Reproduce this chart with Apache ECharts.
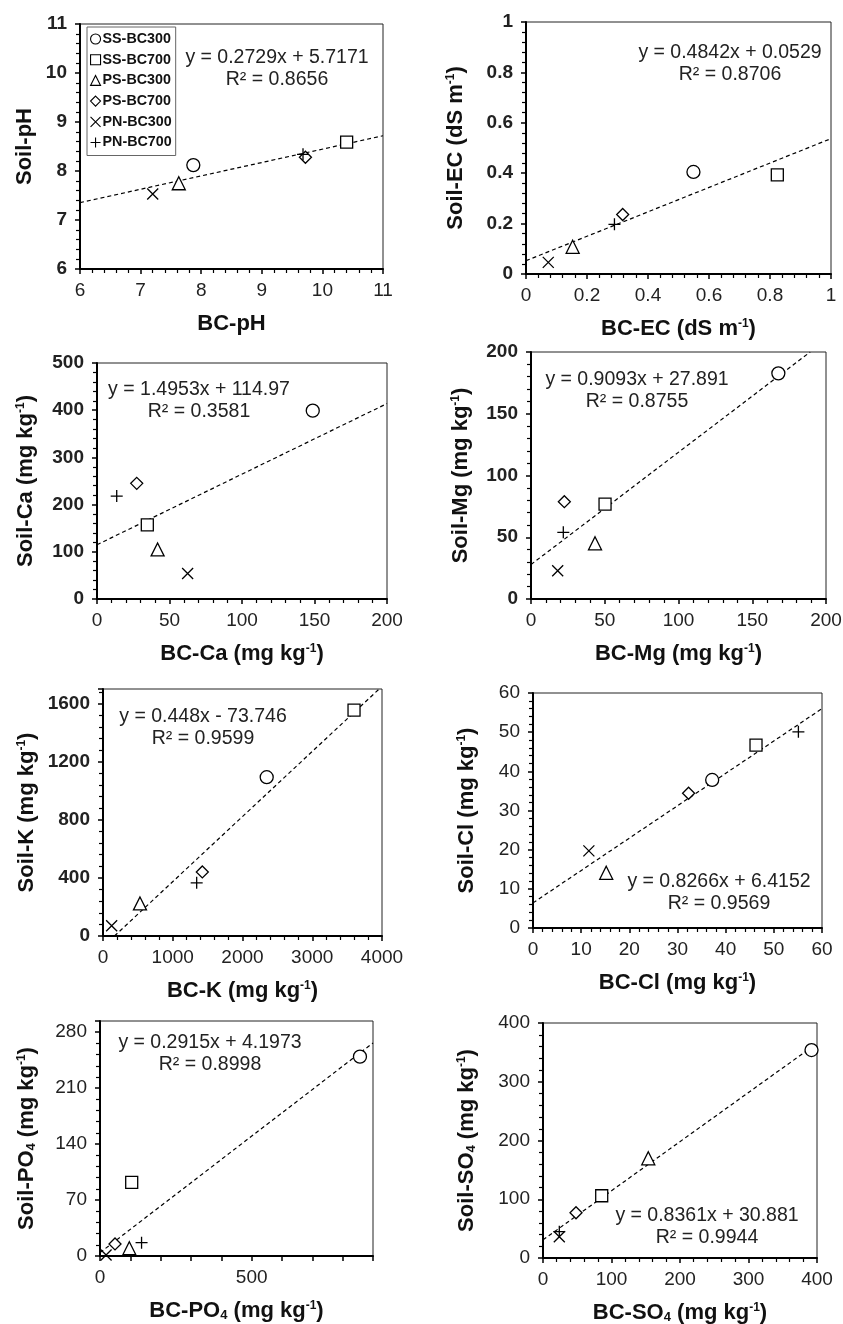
<!DOCTYPE html>
<html><head><meta charset="utf-8">
<script src="https://cdn.jsdelivr.net/npm/echarts@6/dist/echarts.min.js"></script>
<style>html,body{margin:0;padding:0;background:#fff}#c{width:843px;height:1324px}</style>
</head><body><div id="c"></div>
<script>
// ---------- DATA ----------
const seriesNames = ['SS-BC300', 'SS-BC700', 'PS-BC300', 'PS-BC700', 'PN-BC300', 'PN-BC700'];

// Values per panel, in the order of seriesNames (BC value = x, Soil value = y)
const phX  = [7.87, 10.40, 7.63, 9.72, 7.20, 9.68];
const phY  = [8.12, 8.59, 7.75, 8.28, 7.53, 8.34];
const ecX  = [0.549, 0.824, 0.153, 0.317, 0.073, 0.290];
const ecY  = [0.405, 0.393, 0.108, 0.236, 0.046, 0.197];
const caX  = [148.8, 34.7, 41.8, 27.4, 62.5, 13.6];
const caY  = [399, 157, 105, 245, 54, 218];
const mgX  = [167.7, 50.2, 43.4, 22.6, 18.1, 21.9];
const mgY  = [182.7, 76.9, 45.1, 78.8, 22.9, 54];
const kX   = [2347, 3599, 530, 1424, 124, 1343];
const kY   = [1093, 1555, 224, 441, 71, 366];
const clX  = [37.2, 46.3, 15.2, 32.3, 11.6, 55.1];
const clY  = [37.8, 46.7, 14.1, 34.4, 19.7, 50.1];
const po4X = [857, 104.5, 96.7, 49.5, 20, 137];
const po4Y = [249.4, 92.2, 9.7, 15.1, 1.3, 16.7];
const so4X = [392, 85.7, 153.7, 48.2, 23.8, 23.8];
const so4Y = [354, 106, 169.7, 77, 36.3, 44.8];

// Linear fits shown on the chart
const trendSlope     = [0.2729, 0.4842, 1.4953, 0.9093, 0.448, 0.8266, 0.2915, 0.8361];
const trendIntercept = [5.7171, 0.0529, 114.97, 27.891, -73.746, 6.4152, 4.1973, 30.881];
const trendFrom      = [6, 0, 0, 0, 164.6, 0, 0, 0];
const trendTo        = [11, 1, 200, 189.3, 3959, 60, 900, 392];
const eqTexts = ['y = 0.2729x + 5.7171', 'y = 0.4842x + 0.0529', 'y = 1.4953x + 114.97', 'y = 0.9093x + 27.891',
                 'y = 0.448x - 73.746', 'y = 0.8266x + 6.4152', 'y = 0.2915x + 4.1973', 'y = 0.8361x + 30.881'];
const r2Texts = ['R² = 0.8656', 'R² = 0.8706', 'R² = 0.3581', 'R² = 0.8755',
                 'R² = 0.9599', 'R² = 0.9569', 'R² = 0.8998', 'R² = 0.9944'];

// Axis ranges / tick labels
const xMin = [6, 0, 0, 0, 0, 0, 0, 0];
const xMax = [11, 1, 200, 200, 4000, 60, 900, 400];
const xTickStep  = [1, 0.2, 50, 50, 1000, 10, 100, 100];
const xLabelStep = [1, 0.2, 50, 50, 1000, 10, 500, 100];
const yMin = [6, 0, 0, 0, 0, 0, 0, 0];
const yMax = [11, 1, 500, 200, 1700, 60, 294, 400];
const yTickStep = [1, 0.2, 100, 50, 400, 10, 70, 100];
const xTitles = ['BC-pH', 'BC-EC (dS m{sup|-1})', 'BC-Ca (mg kg{sup|-1})', 'BC-Mg (mg kg{sup|-1})',
                 'BC-K (mg kg{sup|-1})', 'BC-Cl (mg kg{sup|-1})', 'BC-PO{sub|4} (mg kg{sup|-1})', 'BC-SO{sub|4} (mg kg{sup|-1})'];
const yTitles = ['Soil-pH', 'Soil-EC (dS m{sup|-1})', 'Soil-Ca (mg kg{sup|-1})', 'Soil-Mg (mg kg{sup|-1})',
                 'Soil-K (mg kg{sup|-1})', 'Soil-Cl (mg kg{sup|-1})', 'Soil-PO{sub|4} (mg kg{sup|-1})', 'Soil-SO{sub|4} (mg kg{sup|-1})'];

// ---------- LAYOUT / STYLE ----------
const panelsX = [phX, ecX, caX, mgX, kX, clX, po4X, so4X];
const panelsY = [phY, ecY, caY, mgY, kY, clY, po4Y, so4Y];
const gridBoxes = [
  [80, 24, 303, 245], [526, 22, 305, 252],
  [97, 363, 290, 236], [531, 352, 295, 247],
  [103, 689, 279, 247], [533, 693, 289, 235],
  [100, 1021, 273, 235], [543, 1023, 274, 235]
];
const yNameGap = [44, 59, 60, 59, 65, 55, 62, 65];
const eqPos = [[277, 58], [730, 53], [199, 390], [637, 380], [203, 717], [719, 882], [210, 1043], [707, 1216]];
const yLabelBold = [true, true, true, true, true, false, false, false];

const FONT = '"Liberation Sans", Arial, Helvetica, sans-serif';
const symbols = ['circle', 'rect', 'triangle', 'diamond',
                 'path://M0,0L10,10M10,0L0,10', 'path://M5,0L5,10M0,5L10,5'];
const symbolSizes = [13, 12, 13, 12, 11, 12];

function isMultiple(v, step) {
  const r = v / step;
  return Math.abs(r - Math.round(r)) < 1e-6;
}
function fmt(v) { return String(Math.round(v * 1000) / 1000); }

const richTitle = {
  sup: { fontSize: 12, fontWeight: 'bold', fontFamily: FONT, verticalAlign: 'top', color: '#111', lineHeight: 14 },
  sub: { fontSize: 13, fontWeight: 'bold', fontFamily: FONT, verticalAlign: 'bottom', color: '#111', lineHeight: 12, padding: [8, 0, 0, 0] }
};

const grid = [], xAxis = [], yAxis = [], series = [], graphic = [];
for (let p = 0; p < 8; p++) {
  const g = gridBoxes[p];
  grid.push({ left: g[0], top: g[1], width: g[2], height: g[3], show: true, borderColor: '#222', borderWidth: 1, backgroundColor: 'transparent', containLabel: false, outerBoundsMode: 'none' });
  const xl = xLabelStep[p];
  xAxis.push({
    type: 'value', gridIndex: p, min: xMin[p], max: xMax[p], interval: xTickStep[p],
    splitLine: { show: false },
    axisLine: { show: true, onZero: false, lineStyle: { color: '#000', width: 2 } },
    axisTick: { show: true, inside: false, length: 5, lineStyle: { color: '#000', width: 1.5 } },
    minorTick: { show: p !== 6, splitNumber: 5, length: 4, lineStyle: { color: '#000', width: 1.2 } },
    axisLabel: { fontSize: 19, fontFamily: FONT, color: '#222', margin: 12, showMaxLabel: true,
      formatter: v => isMultiple(v - xMin[p], xl) ? fmt(v) : '' },
    name: xTitles[p], nameLocation: 'middle', nameGap: 44,
    nameTextStyle: { fontSize: 22, fontWeight: 'bold', fontFamily: FONT, color: '#111', rich: richTitle }
  });
  const ys = yTickStep[p];
  yAxis.push({
    type: 'value', gridIndex: p, min: yMin[p], max: yMax[p], interval: ys,
    splitLine: { show: false },
    axisLine: { show: true, onZero: false, lineStyle: { color: '#000', width: 2 } },
    axisTick: { show: true, inside: false, length: 5, lineStyle: { color: '#000', width: 1.5 } },
    minorTick: { show: true, splitNumber: 5, length: 4, lineStyle: { color: '#000', width: 1.2 } },
    axisLabel: { fontSize: 19, fontFamily: FONT, color: '#222', margin: 13, fontWeight: yLabelBold[p] ? 'bold' : 'normal',
      formatter: v => isMultiple(v - yMin[p], ys) ? fmt(v) : '' },
    name: yTitles[p], nameLocation: 'middle', nameGap: yNameGap[p],
    nameTextStyle: { fontSize: 22, fontWeight: 'bold', fontFamily: FONT, color: '#111', rich: richTitle }
  });
  // trend line
  series.push({
    type: 'line', name: 'trend' + p, xAxisIndex: p, yAxisIndex: p, symbol: 'none', silent: true,
    lineStyle: { color: '#000', width: 1.2, type: [4, 3] }, clip: true, z: 1,
    data: [[trendFrom[p], trendSlope[p] * trendFrom[p] + trendIntercept[p]],
           [trendTo[p], trendSlope[p] * trendTo[p] + trendIntercept[p]]]
  });
  for (let s = 0; s < 6; s++) {
    const lineOnly = s >= 4;
    series.push({
      type: 'scatter', name: seriesNames[s], xAxisIndex: p, yAxisIndex: p,
      symbol: symbols[s], symbolSize: symbolSizes[s], z: 3,
      itemStyle: { color: lineOnly ? 'rgba(0,0,0,0)' : '#fff', borderColor: '#000', borderWidth: 1.3, opacity: 1 },
      emphasis: { disabled: true },
      data: [[panelsX[p][s], panelsY[p][s]]]
    });
  }
  graphic.push({ type: 'text', x: eqPos[p][0], y: eqPos[p][1], z: 10,
    style: { text: eqTexts[p], font: '19.5px ' + FONT, fill: '#222', textAlign: 'center', textVerticalAlign: 'middle' } });
  graphic.push({ type: 'text', x: eqPos[p][0], y: eqPos[p][1] + 22, z: 10,
    style: { text: r2Texts[p], font: '19.5px ' + FONT, fill: '#222', textAlign: 'center', textVerticalAlign: 'middle' } });
}

const chart = echarts.init(document.getElementById('c'), null, { renderer: 'canvas' });
chart.setOption({
  animation: false,
  backgroundColor: '#fff',
  grid, xAxis, yAxis, series, graphic,
  legend: {
    data: seriesNames, orient: 'vertical', left: 87, top: 27, selectedMode: false,
    borderColor: '#666', borderWidth: 1, padding: [4, 4, 5, 3], itemGap: 4.7,
    itemWidth: 10, itemHeight: 10,
    itemStyle: { borderWidth: 1.1, borderColor: '#000' },
    textStyle: { fontSize: 14.3, fontWeight: 'bold', fontFamily: FONT, color: '#111', lineHeight: 16, padding: [0, 0, 0, -3] }
  }
});
</script>
</body></html>
